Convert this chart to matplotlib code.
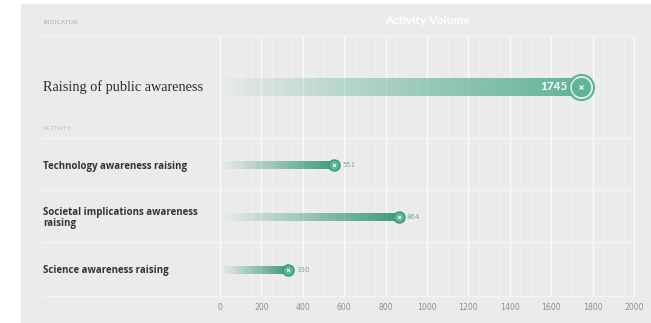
import numpy as np
import matplotlib
matplotlib.use("Agg")
import matplotlib.pyplot as plt
from matplotlib.colors import to_rgb

# ---- data ----
indicator = "Raising of public awareness"
indicator_value = 1745
activities = ["Technology awareness raising",
              "Societal implications awareness\nraising",
              "Science awareness raising"]
activity_values = [551, 864, 330]
x_ticks = [0, 200, 400, 600, 800, 1000, 1200, 1400, 1600, 1800, 2000]

# ---- layout (pixel rows on a 651x323 canvas) ----
W, H = 651, 323
X0_PX, X1_PX = 220, 634          # where 0 and 2000 fall
px_per_unit = (X1_PX - X0_PX) / 2000.0
xmin = -X0_PX / px_per_unit
xmax = (W - X0_PX) / px_per_unit

fig = plt.figure(figsize=(W / 100, H / 100), dpi=100)
fig.patch.set_facecolor("white")
ax = fig.add_axes([0, 0, 1, 1])
ax.set_xlim(xmin, xmax)
ax.set_ylim(H, 0)
ax.axis("off")

def px(x):
    return xmin + x / px_per_unit

PANEL = "#ebebeb"
ax.add_patch(plt.Rectangle((px(21), 4), px(W) - px(21), H, color=PANEL, zorder=0))

GREEN_DARK = "#3d9b7c"
GREEN_MAIN = "#62b398"

# grid
grid_top, grid_bot = 36, 296
minor = np.arange(0, 2001, 50)
ax.vlines(minor, grid_top, grid_bot, color="white", lw=0.6, alpha=0.35, zorder=1)
ax.vlines(x_ticks, grid_top, grid_bot, color="white", lw=1.0, alpha=0.75, zorder=1)

# row separators
for y in [36, 138, 190, 242, 296]:
    ax.hlines(y, px(42), 2000, color="#f4f4f4", lw=0.9, zorder=1)

# header
ax.text(px(43), 22, "INDICATOR", fontsize=4.6, color="#b0b0b0",
        family="DejaVu Sans", va="center", ha="left")
ax.text(px(427), 20, "Activity Volume", fontsize=8.5, color="white",
        fontweight="bold", family="Lato", va="center", ha="center")
ax.text(px(43), 128, "ACTIVITY:", fontsize=4.6, color="#bdbdbd",
        family="DejaVu Sans", va="center", ha="left")

def gradient_bar(value, yc, h, color, a0=0.0, a1=1.0, gamma=0.8):
    n = 256
    rgba = np.zeros((1, n, 4))
    rgba[..., :3] = to_rgb(color)
    ramp = np.linspace(0, 1, n) ** gamma
    rgba[..., 3] = a0 + (a1 - a0) * ramp
    ax.imshow(rgba, extent=[0, value, yc + h / 2, yc - h / 2],
              aspect="auto", interpolation="bilinear", zorder=2)

# indicator row
y_ind = 87
ax.text(px(43), y_ind, indicator, fontsize=10.3, color="#2b2b2b",
        family="Liberation Serif", va="center", ha="left")
gradient_bar(indicator_value, y_ind, 18, GREEN_MAIN, 0.0, 1.0, 0.9)
ax.plot([indicator_value], [y_ind], "o", ms=15.0, mfc=GREEN_MAIN, mec="#e6f2ed",
        mew=1.0, zorder=4)
ax.plot([indicator_value], [y_ind], "o", ms=18.0, mfc="none", mec=GREEN_MAIN,
        mew=1.6, zorder=3)
ax.plot([indicator_value], [y_ind], "x", ms=2.4, mec="white", mew=0.8, zorder=5)
ax.text(indicator_value - 14 / px_per_unit, y_ind, f"{indicator_value}",
        fontsize=8.5, color="white", fontweight="bold", family="Lato",
        va="center", ha="right", zorder=5)

# activity rows
row_y = [165, 217, 270]
for name, val, yc in zip(activities, activity_values, row_y):
    ax.text(px(43), yc + 1, name, fontsize=7.0, color="#333333", fontweight="bold",
            family="Open Sans", va="center", ha="left", linespacing=1.0)
    gradient_bar(val, yc, 8, GREEN_DARK, 0.0, 1.0, 1.0)
    ax.plot([val], [yc], "o", ms=7.8, mfc="#5fb79a", mec=GREEN_DARK, mew=1.2,
            zorder=4)
    ax.plot([val], [yc], "x", ms=2.0, mec="white", mew=0.7, zorder=5)
    ax.text(val + 8 / px_per_unit, yc, f"{val}", fontsize=5.0, color="#7aa99a",
            family="DejaVu Sans", va="center", ha="left", zorder=5)

# x-axis tick labels
for t in x_ticks:
    ax.text(t, 307, f"{t}", fontsize=5.6, color="#8f8f8f", family="DejaVu Sans",
            va="center", ha="center")

fig.savefig("out.png", dpi=100, facecolor="white")
